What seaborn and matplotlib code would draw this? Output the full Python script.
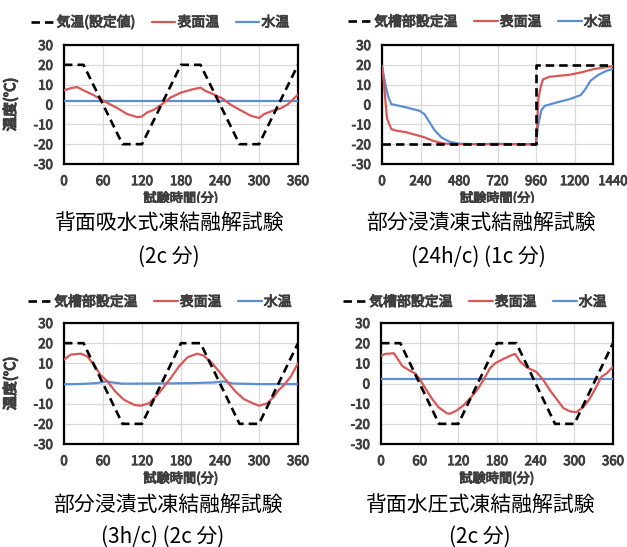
import matplotlib
matplotlib.use("Agg")
import matplotlib.pyplot as plt
import matplotlib.patheffects as pe
from matplotlib.lines import Line2D
from matplotlib.patches import Rectangle
import seaborn as sns

sns.set_theme(style="white")
plt.rcParams["font.family"] = ["Noto Sans CJK JP", "DejaVu Sans"]
plt.rcParams["axes.unicode_minus"] = False

# ---- data -------------------------------------------------------------
# air set-point cycle (3 h per cycle, 2 cycles)
cyc_t = [0, 30, 90, 120, 180, 210, 270, 300, 360]
cyc_air = [20, 20, -20, -20, 20, 20, -20, -20, 20]

# back-side water absorption test
a_surf_t = [0, 10, 20, 31, 44, 61, 82, 97, 113, 120, 128, 138, 149, 164, 180,
            197, 210, 218, 231, 244, 256, 272, 287, 300, 308, 321, 333, 344, 360]
a_surf = [7.1, 8.2, 8.8, 7.0, 5.0, 1.8, -1.8, -4.8, -6.4, -6.0, -4.0, -2.7, -0.3,
          3.5, 6.0, 7.6, 8.5, 6.8, 5.0, 3.0, 0.0, -3.0, -5.6, -6.8, -4.8, -3.2,
          -2.0, 0.0, 5.0]
a_water_t = [0, 60, 120, 180, 240, 300, 360]
a_water = [2.0, 2.0, 2.0, 2.0, 2.0, 2.0, 2.0]

# partial immersion test, 24 h per cycle
b_air_t = [0, 960, 960, 1440]
b_air = [-20, -20, 20, 20]
b_surf_t = [0, 8, 17, 31, 58, 89, 152, 214, 266, 318, 380, 443, 600, 800, 960,
            966, 975, 988, 1004, 1045, 1170, 1253, 1315, 1378, 1440]
b_surf = [19.4, 14.0, 6.0, -7.0, -12.4, -13.2, -14.0, -15.4, -16.6, -18.3, -19.6,
          -20.0, -20.0, -20.0, -20.0, -12.0, 2.7, 8.5, 12.7, 14.0, 15.0, 16.4,
          17.8, 18.6, 19.4]
b_water_t = [0, 12, 23, 37, 58, 152, 235, 266, 297, 328, 370, 422, 484, 600, 720,
             840, 960, 973, 993, 1014, 1087, 1170, 1240, 1270, 1300, 1350, 1400, 1440]
b_water = [19.4, 14.0, 9.4, 4.4, 0.2, -1.5, -3.2, -5.0, -9.0, -13.0, -16.6, -18.8,
           -19.8, -20.0, -19.8, -20.0, -20.0, -10.7, -3.0, -0.7, 1.0, 2.7, 4.8,
           8.0, 12.0, 15.0, 17.0, 18.0]

# partial immersion test, 3 h per cycle
c_surf_t = [0, 10, 26, 36, 46, 56, 67, 79, 92, 108, 118, 131, 144, 154, 164, 177,
            190, 205, 215, 228, 241, 251, 264, 277, 292, 300, 313, 323, 331, 338,
            349, 360]
c_surf = [11.8, 14.3, 14.8, 13.4, 9.3, 4.3, 1.0, -4.0, -8.0, -10.6, -11.0, -9.8,
          -5.6, -1.5, 2.6, 8.5, 13.0, 14.8, 13.8, 10.0, 5.0, 1.0, -4.0, -7.8,
          -10.0, -11.0, -9.8, -6.5, -3.0, -1.0, 3.5, 10.0]
c_water_t = [0, 30, 50, 65, 75, 90, 150, 200, 230, 245, 260, 300, 360]
c_water = [-0.4, -0.2, 0.2, 1.0, 0.5, -0.1, 0.0, 0.2, 0.5, 1.0, 0.0, -0.3, -0.3]

# back-side water pressure test
d_surf_t = [0, 7, 20, 27, 33, 43, 53, 61, 69, 79, 89, 102, 107, 118, 128, 138, 149,
            159, 169, 177, 187, 200, 208, 216, 226, 241, 252, 262, 272, 283, 293,
            303, 314, 324, 334, 342, 350, 360]
d_surf = [13.7, 14.7, 15.0, 11.7, 8.7, 6.7, 5.0, 1.7, -2.5, -7.5, -11.7, -14.7,
          -15.0, -13.3, -10.8, -7.5, -3.3, 1.7, 7.5, 10.0, 11.7, 13.7, 14.7, 10.8,
          8.0, 5.8, 1.7, -3.3, -7.5, -12.2, -13.8, -14.2, -11.7, -7.5, -1.7, 3.3,
          5.0, 8.3]
d_water_t = [0, 60, 120, 180, 240, 300, 360]
d_water = [2.2, 2.2, 2.2, 2.2, 2.2, 2.2, 2.2]

legend_air_a = "気温(設定値)"
legend_air = "気槽部設定温"
legend_surf = "表面温"
legend_water = "水温"

y_ticks = [-30, -20, -10, 0, 10, 20, 30]
x_ticks_3h = [0, 60, 120, 180, 240, 300, 360]
x_ticks_24h = [0, 240, 480, 720, 960, 1200, 1440]

xlabel = "試験時間(分)"
ylabel = "温度(°C)"

captions = [
    ("背面吸水式凍結融解試験", "(2c 分)"),
    ("部分浸漬凍式結融解試験", "(24h/c) (1c 分)"),
    ("部分浸漬式凍結融解試験", "(3h/c) (2c 分)"),
    ("背面水圧式凍結融解試験", "(2c 分)"),
]

# ---- styling ----------------------------------------------------------
W, H = 627, 547
RED = "#d95757"
BLUE = "#5b8ed2"
TXT = "#3f3f3f"
DASH = (3.2, 1.9)
HEAVY = [pe.withStroke(linewidth=0.7, foreground=TXT)]

fig = plt.figure(figsize=(W / 100, H / 100), dpi=100)
fig.patch.set_facecolor("white")


def px_rect(l, t, r, b):
    return [l / W, 1 - b / H, (r - l) / W, (b - t) / H]


panels = [
    dict(rect=(64, 45, 298, 164), x_air=cyc_t, air=cyc_air, x_s=a_surf_t, s=a_surf,
         x_w=a_water_t, w=a_water, xlim=(0, 360), xt=x_ticks_3h, leg=legend_air_a,
         leg_c=(160, 22), cap_c=(170, 223, 169, 257)),
    dict(rect=(382, 45, 613, 164), x_air=b_air_t, air=b_air, x_s=b_surf_t, s=b_surf,
         x_w=b_water_t, w=b_water, xlim=(0, 1440), xt=x_ticks_24h, leg=legend_air,
         leg_c=(480, 22), cap_c=(481, 223, 478, 257)),
    dict(rect=(64, 323, 298, 444), x_air=cyc_t, air=cyc_air, x_s=c_surf_t, s=c_surf,
         x_w=c_water_t, w=c_water, xlim=(0, 360), xt=x_ticks_3h, leg=legend_air,
         leg_c=(160, 302), cap_c=(168, 505, 163, 537)),
    dict(rect=(381, 323, 613, 444), x_air=cyc_t, air=cyc_air, x_s=d_surf_t, s=d_surf,
         x_w=d_water_t, w=d_water, xlim=(0, 360), xt=x_ticks_3h, leg=legend_air,
         leg_c=(475, 302), cap_c=(481, 505, 480, 537)),
]

for p, (cap1, cap2) in zip(panels, captions):
    l, t, r, b = p["rect"]
    ax = fig.add_axes(px_rect(l, t, r, b))
    ax.set_facecolor("white")

    sns.lineplot(x=p["x_w"], y=p["w"], ax=ax, color=BLUE, linewidth=1.6,
                 estimator=None, sort=False, zorder=3)
    sns.lineplot(x=p["x_s"], y=p["s"], ax=ax, color=RED, linewidth=1.6,
                 estimator=None, sort=False, zorder=4)
    sns.lineplot(x=p["x_air"], y=p["air"], ax=ax, color="black", linewidth=1.9,
                 estimator=None, sort=False, zorder=5)
    ax.lines[-1].set_dashes(DASH)

    ax.set_xlim(*p["xlim"])
    ax.set_ylim(-30, 30)
    ax.set_xticks(p["xt"])
    ax.set_yticks(y_ticks)
    ax.grid(True, color="#d9d9d9", linewidth=0.9)
    ax.set_axisbelow(True)
    for sp in ax.spines.values():
        sp.set_visible(True)
        sp.set_color("black")
        sp.set_linewidth(1.6)
    ax.tick_params(axis="both", length=0, pad=8, labelsize=9.5, labelcolor=TXT)
    for lab in ax.get_xticklabels() + ax.get_yticklabels():
        lab.set_path_effects(HEAVY)

    ax.set_xlabel(xlabel, fontsize=9.5, color=TXT, path_effects=HEAVY)
    ax.xaxis.set_label_coords(0.5, -(192 - 164) / (b - t))
    ax.set_ylabel(ylabel, fontsize=10.5, color=TXT, path_effects=HEAVY)
    ax.yaxis.set_label_coords(-(l - 18) / (r - l), 0.5)

    handles = [
        Line2D([], [], color="black", linewidth=1.9, dashes=DASH),
        Line2D([], [], color=RED, linewidth=1.6),
        Line2D([], [], color=BLUE, linewidth=1.6),
    ]
    lx, ly = p["leg_c"]
    leg = ax.legend(handles, [p["leg"], legend_surf, legend_water], ncol=3,
                    loc="center", bbox_to_anchor=(lx / W, 1 - ly / H),
                    bbox_transform=fig.transFigure, frameon=False,
                    fontsize=10, handlelength=1.7, handletextpad=0.15,
                    columnspacing=1.2, borderpad=0, borderaxespad=0)
    for txt in leg.get_texts():
        txt.set_color(TXT)
        txt.set_path_effects(HEAVY)

    c1x, c1y, c2x, c2y = p["cap_c"]
    fig.text(c1x / W, 1 - c1y / H, cap1, ha="center", va="center",
             fontsize=15, color="black")
    fig.text(c2x / W, 1 - c2y / H, cap2, ha="center", va="center",
             fontsize=15, color="black")

# the caption band overlaps the lower edge of the top-row axis titles
fig.add_artist(Rectangle((0, 1 - 211 / H), 1, 8 / H, transform=fig.transFigure,
                         facecolor="white", edgecolor="none", zorder=10))

fig.savefig("out.png", dpi=100, facecolor="white")
